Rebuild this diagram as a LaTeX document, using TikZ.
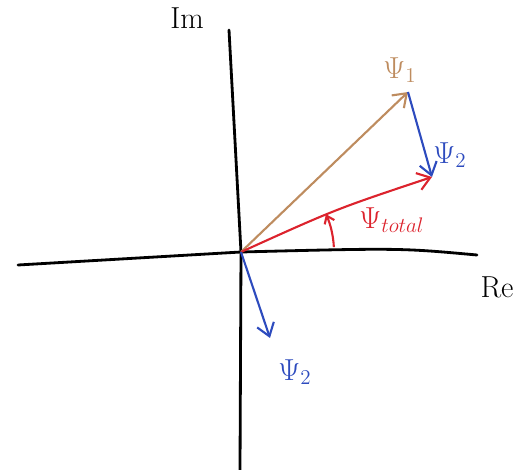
\documentclass[tikz,border=0pt]{standalone}
\usepackage{tikz}
\usepackage{xcolor}
\usetikzlibrary{arrows.meta}
\definecolor{psibrown}{RGB}{190,140,95}
\definecolor{psiblue}{RGB}{45,75,190}
\definecolor{psired}{RGB}{220,35,45}

\begin{document}
\begin{tikzpicture}[x=0.02cm,y=-0.02cm,
  axis/.style={line width=1.6pt, black, line cap=round},
  phasor/.style={line width=1.2pt, -{Straight Barb[length=7pt,width=10pt,line width=1.2pt]}},
  lbl/.style={font=\LARGE}]

% Frame
\useasboundingbox (0,0) rectangle (529,470);

% Points
\coordinate (O) at (241,252);
\coordinate (P1) at (408,92);
\coordinate (P2) at (432,177);
\coordinate (Q2) at (270,338);
\coordinate (axT) at (229,30);
\coordinate (axB) at (240,470);
\coordinate (axL) at (18,265);
\coordinate (axR) at (477,255);

% Axes
\draw[axis] (axT) -- (O) -- (axB);
\draw[axis] (axL) -- (O) .. controls (400,248) .. (axR);

% Axis labels
\node[lbl] (im) at (187,18) {Im};
\node[lbl] (re) at (497,287) {Re};

% Phasors
\draw[phasor, psibrown] (O) -- (P1);
\draw[phasor, psiblue] (P1) -- (P2);
\draw[phasor, psired] (O) .. controls (336,209) .. (P2);
\draw[phasor, psiblue] (O) -- (Q2);

% Angle
\draw[psired, line width=1.2pt, -{Straight Barb[length=4pt,width=6pt]}]
  ([shift={(-3:93)}]O) arc[start angle=-3, end angle=-24, radius=93];

% Phasor labels
\node[lbl, psibrown] (l1) at (400,70) {$\Psi_1$};
\node[lbl, psiblue] (l2) at (450,155) {$\Psi_2$};
\node[lbl, psired] (lt) at (392,220) {$\Psi_{total}$};
\node[lbl, psiblue] (l3) at (295,372) {$\Psi_2$};

\end{tikzpicture}
\end{document}
